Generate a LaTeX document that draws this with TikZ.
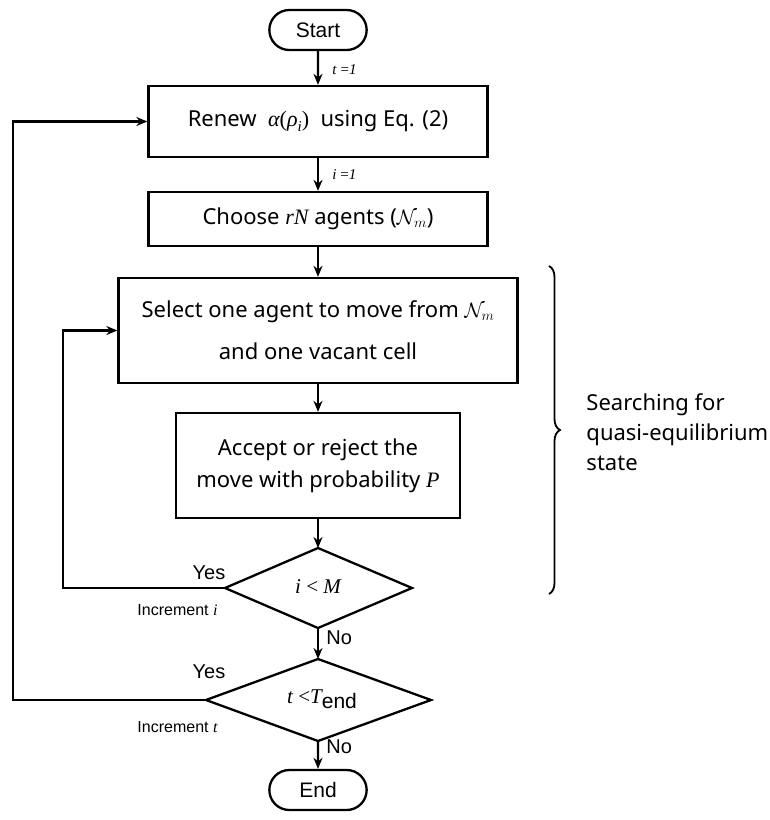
\documentclass[tikz,border=0pt]{standalone}
\usepackage{fontspec}
\setmainfont{Noto Sans}
\newfontfamily\arialf{Liberation Sans}
\newfontfamily\timesf{Liberation Serif}
\usetikzlibrary{shapes.geometric,shapes.misc,arrows.meta,decorations.pathreplacing}
\newcommand{\tmi}[1]{{\timesf\itshape #1}}
\begin{document}
\begin{tikzpicture}[x=1pt,y=-1pt,
  line width=2.3pt,
  box/.style={draw,rectangle,minimum width=#1,align=center,font=\fontsize{22}{32}\selectfont,inner sep=0pt},
  term/.style={draw,rounded rectangle,minimum width=104pt,minimum height=40pt,font=\arialf\fontsize{21}{24}\selectfont},
  arr/.style={-{Stealth[length=11pt,width=9pt]}},
  lbl/.style={font=\arialf\fontsize{20}{22}\selectfont},
  sml/.style={font=\arialf\fontsize{16}{18}\selectfont},
  mth/.style={font=\timesf\itshape\fontsize{15}{16}\selectfont}
]
\useasboundingbox (0,0) rectangle (770,820);
\node[term] (start) at (318,30) {Start};
\node[box=339pt,minimum height=71pt] (renew) at (318,121.5) {Renew\ \ \tmi{α}{\timesf(}\tmi{ρ}\raisebox{-5pt}{\tmi{\fontsize{15}{15}\selectfont i}}{\timesf)}\ \ using Eq. (2)};
\node[box=339pt,minimum height=54pt] (choose) at (318,219) {Choose \tmi{rN} agents ($\mathcal{N}_{m}$)};
\node[box=399pt,minimum height=105pt,font=\fontsize{22}{42}\selectfont] (select) at (318,330.5) {Select one agent to move from $\mathcal{N}_{m}$\\and one vacant cell};
\node[box=284pt,minimum height=105pt] (accept) at (318,465.5) {Accept or reject the\\move with probability \tmi{P}};
\draw (318,548) -- (412,588) -- (318,628) -- (225,588) -- cycle;
\node[font=\timesf\itshape\fontsize{21}{22}\selectfont] (d1) at (318,587) {i \textup{<} M};
\draw (318,659) -- (431,700) -- (318,741) -- (206,700) -- cycle;
\node[font=\fontsize{21}{22}\selectfont] (d2) at (322,699) {\tmi{t} {\timesf<}\tmi{T}\raisebox{-5pt}{\arialf end}};
\node[term] (end) at (318,790) {End};
\coordinate (d1l) at (225,588);
\coordinate (d2l) at (206,700);
\coordinate (d1b) at (318,628);
\coordinate (d1t) at (318,548);
\coordinate (d2t) at (318,659);
\coordinate (d2b) at (318,741);
\coordinate (c1) at (63,588);
\coordinate (c2) at (13,700);
\draw[arr] (start) -- (renew) node[pos=0.55,right=10pt,mth] {t {\textup{=}}1};
\draw[arr] (renew) -- (choose) node[pos=0.5,right=10pt,mth] {i {\textup{=}}1};
\draw[arr] (choose) -- (select);
\draw[arr] (select) -- (accept);
\draw[arr] (accept) -- (d1t);
\draw[arr] (d1b) -- (d2t) node[pos=0.3,right=4pt,lbl] {No};
\draw[arr] (d2b) -- (end) node[pos=0.2,right=4pt,lbl] {No};
\draw[arr] (d1l) -- (c1) |- (select.west);
\draw[arr] (d2l) -- (c2) |- (renew.west);
\node[lbl] at (209,573) {Yes};
\node[lbl] at (209,672) {Yes};
\node[sml,anchor=west] at (133,610) {Increment \tmi{i}};
\node[sml,anchor=west] at (133,727) {Increment \tmi{t}};
\draw[line width=1.8pt,decorate,decoration={brace,amplitude=11pt}] (549,266) -- (549,594);
\node[anchor=west,align=left,font=\fontsize{22}{30}\selectfont] (txt) at (582,432) {Searching for\\quasi-equilibrium\\state};
\end{tikzpicture}
\end{document}
